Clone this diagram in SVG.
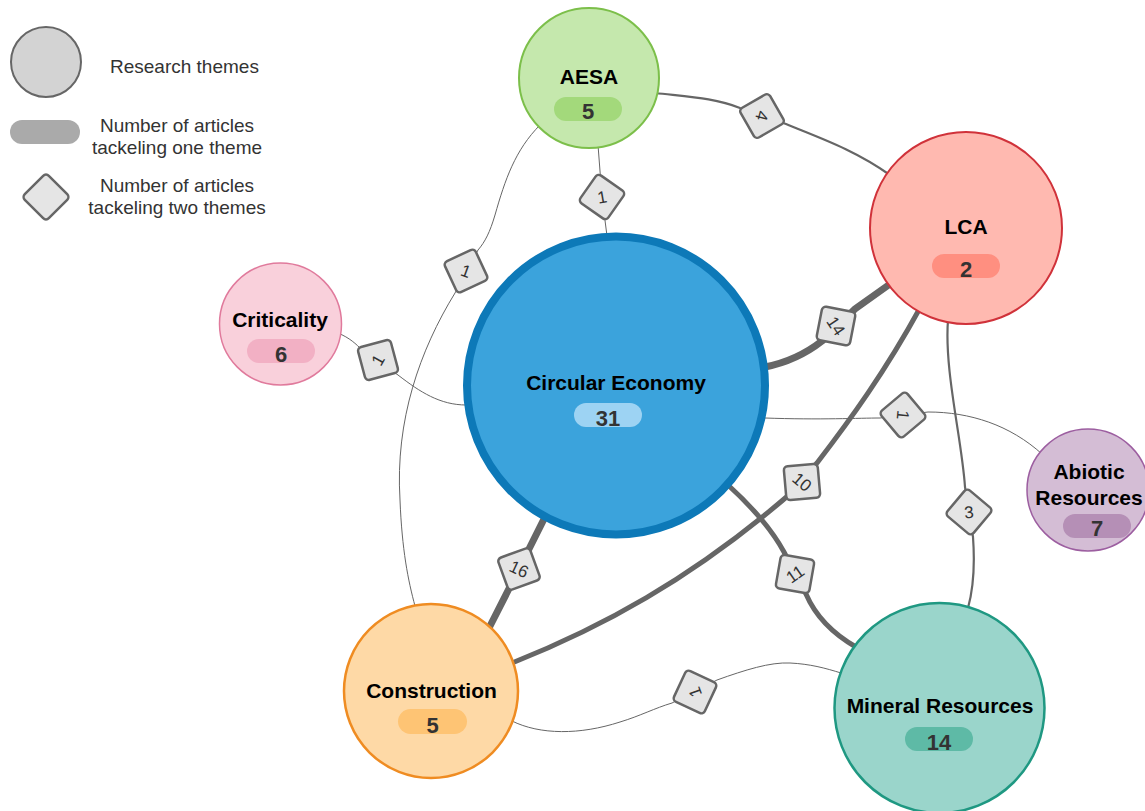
<svg xmlns="http://www.w3.org/2000/svg" width="1145" height="811" viewBox="0 0 1145 811">
<style>
.bg{fill:#ffffff}
.e{fill:none;stroke:#666666;stroke-linecap:round}
.w1{stroke-width:1}
.w2{stroke-width:2.2}
.w5{stroke-width:5}
.w7{stroke-width:7}
.dia rect{fill:#e5e5e5;stroke:#666666;stroke-width:2.5}
.dia text{font-family:"Liberation Sans",Arial,sans-serif;font-size:17px;fill:#333333;text-anchor:middle}
.title{font-family:"Liberation Sans",Arial,sans-serif;font-weight:bold;font-size:21px;fill:#000000;text-anchor:middle}
.num{font-family:"Liberation Sans",Arial,sans-serif;font-weight:bold;font-size:22px;fill:#333333;text-anchor:middle}
.leg{font-family:"Liberation Sans",Arial,sans-serif;font-size:19px;fill:#333333}
</style>
<rect class="bg" x="0" y="0" width="1145" height="811"/>

<g id="legend">
  <circle cx="46" cy="62" r="35" fill="#d3d3d3" stroke="#666666" stroke-width="2"/>
  <text class="leg" x="110" y="73">Research themes</text>
  <rect x="10" y="120" width="70" height="24" rx="12" fill="#aaaaaa"/>
  <text class="leg" x="177" y="132" text-anchor="middle">Number of articles</text>
  <text class="leg" x="177" y="154" text-anchor="middle">tackeling one theme</text>
  <g transform="translate(46,197)"><rect x="-17" y="-17" width="34" height="34" rx="4" transform="rotate(45)" fill="#e5e5e5" stroke="#666666" stroke-width="2.5"/></g>
  <text class="leg" x="177" y="192" text-anchor="middle">Number of articles</text>
  <text class="leg" x="177" y="214" text-anchor="middle">tackeling two themes</text>
</g>

<g id="connectors">
  <path class="e w1" d="M598,145 L602,197 L607,236"/>
  <path class="e w2" d="M655,93 C690,97 715,98 740,108 L786,124 C820,138 855,150 890,175"/>
  <path class="e w7" d="M765,367 C790,362 808,352 822,341 L855,309 L890,284"/>
  <path class="e w5" d="M512,663 C600,628 690,580 790,494 L817,463 C850,420 885,372 920,308"/>
  <path class="e w5" d="M728,485 C750,505 772,530 784,552 L806,594 C815,615 830,632 856,647"/>
  <path class="e w7" d="M488,630 L519,569 L546,515"/>
  <path class="e w1" d="M765,418 C820,420 860,418 880,418 L928,412 C970,412 1010,425 1042,454"/>
  <path class="e w2" d="M948,320 C944,370 962,440 965,487 L973,537 C975,565 973,590 968,608"/>
  <path class="e w1" d="M338,333 C350,338 356,344 362,350 L398,375 C420,392 440,405 466,405"/>
  <path class="e w1" d="M540,125 C515,150 505,180 495,215 C490,232 485,242 478,250 L455,293 C420,350 395,420 400,500 C402,550 408,580 415,606"/>
  <path class="e w1" d="M512,721 C540,735 580,735 620,722 C640,716 655,708 672,703 L717,680 C745,670 770,662 790,663 C810,664 825,668 841,673"/>
</g>

<g id="node-aesa">
  <circle cx="589" cy="78" r="70" fill="#c5e8ad" stroke="#7cbf4a" stroke-width="2"/>
  <text class="title" x="589" y="84">AESA</text>
  <rect x="554" y="97" width="68" height="24" rx="12" fill="#a3d97b"/>
  <text class="num" x="588" y="119">5</text>
</g>

<g id="node-lca">
  <circle cx="966" cy="228" r="96" fill="#ffb9b0" stroke="#d0323a" stroke-width="2"/>
  <text class="title" x="966" y="234">LCA</text>
  <rect x="932" y="254" width="68" height="24" rx="12" fill="#ff8f80"/>
  <text class="num" x="966" y="277">2</text>
</g>

<g id="node-criticality">
  <circle cx="280.5" cy="324" r="61" fill="#f9d0db" stroke="#e07a9c" stroke-width="1.5"/>
  <text class="title" x="280" y="327">Criticality</text>
  <rect x="247" y="339" width="68" height="24" rx="12" fill="#f2b0c4"/>
  <text class="num" x="281" y="362">6</text>
</g>

<g id="node-circular-economy">
  <circle cx="616" cy="385.5" r="149" fill="#3ba3dc" stroke="#0d79b8" stroke-width="8"/>
  <text class="title" x="616" y="390">Circular Economy</text>
  <rect x="574" y="403" width="68" height="24" rx="12" fill="#9dd3f3"/>
  <text class="num" x="608" y="426">31</text>
</g>

<g id="node-abiotic">
  <circle cx="1088" cy="490" r="61" fill="#d4bdd5" stroke="#9c5ea0" stroke-width="1.5"/>
  <text class="title" x="1089" y="479">Abiotic</text>
  <text class="title" x="1089" y="505">Resources</text>
  <rect x="1063" y="514" width="68" height="24" rx="12" fill="#b58fb6"/>
  <text class="num" x="1097" y="536">7</text>
</g>

<g id="node-construction">
  <circle cx="431" cy="691" r="87" fill="#fed9a6" stroke="#ef8c22" stroke-width="2.5"/>
  <text class="title" x="431.5" y="698">Construction</text>
  <rect x="398" y="709" width="69" height="25" rx="12.5" fill="#fec474"/>
  <text class="num" x="432.5" y="733">5</text>
</g>

<g id="node-mineral">
  <circle cx="939.5" cy="708" r="105" fill="#9ad5cb" stroke="#1f9882" stroke-width="2.5"/>
  <text class="title" x="940" y="713">Mineral Resources</text>
  <rect x="905" y="727" width="68" height="24" rx="12" fill="#5ebaa6"/>
  <text class="num" x="939" y="750">14</text>
</g>

<g id="edge-labels">
  <g class="dia" transform="translate(602,197)"><rect x="-17" y="-17" width="34" height="34" rx="4" transform="rotate(35)"/><text transform="rotate(-10)" y="6">1</text></g>
  <g class="dia" transform="translate(762,116)"><rect x="-17" y="-17" width="34" height="34" rx="4" transform="rotate(150)"/><text transform="rotate(105)" y="6">4</text></g>
  <g class="dia" transform="translate(836,326)"><rect x="-17" y="-17" width="34" height="34" rx="4" transform="rotate(101)"/><text transform="rotate(56)" y="6">14</text></g>
  <g class="dia" transform="translate(802,482)"><rect x="-17" y="-17" width="34" height="34" rx="4" transform="rotate(85)"/><text transform="rotate(40)" y="6">10</text></g>
  <g class="dia" transform="translate(795,574)"><rect x="-17" y="-17" width="34" height="34" rx="4" transform="rotate(10)"/><text transform="rotate(-35)" y="6">11</text></g>
  <g class="dia" transform="translate(519,569)"><rect x="-17" y="-17" width="34" height="34" rx="4" transform="rotate(70)"/><text transform="rotate(25)" y="6">16</text></g>
  <g class="dia" transform="translate(903,415)"><rect x="-17" y="-17" width="34" height="34" rx="4" transform="rotate(140)"/><text transform="rotate(95)" y="6">1</text></g>
  <g class="dia" transform="translate(969,512)"><rect x="-17" y="-17" width="34" height="34" rx="4" transform="rotate(40)"/><text transform="rotate(-5)" y="6">3</text></g>
  <g class="dia" transform="translate(378,360)"><rect x="-17" y="-17" width="34" height="34" rx="4" transform="rotate(-15)"/><text transform="rotate(-60)" y="6">1</text></g>
  <g class="dia" transform="translate(466,271)"><rect x="-17" y="-17" width="34" height="34" rx="4" transform="rotate(65)"/><text transform="rotate(20)" y="6">1</text></g>
  <g class="dia" transform="translate(695,692)"><rect x="-17" y="-17" width="34" height="34" rx="4" transform="rotate(-65)"/><text transform="rotate(-110)" y="6">1</text></g>
</g>
</svg>
